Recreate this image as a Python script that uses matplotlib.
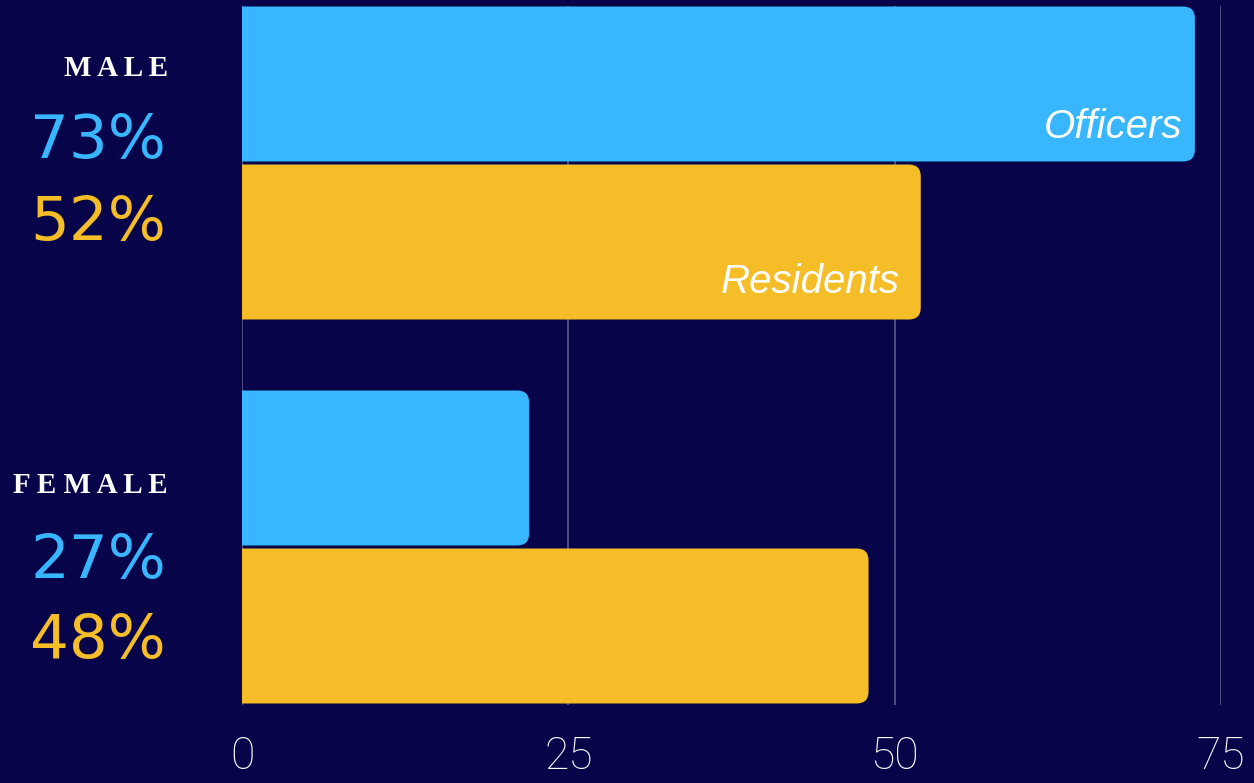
import matplotlib.pyplot as plt
from matplotlib.patches import FancyBboxPatch
from matplotlib.transforms import blended_transform_factory

# data
groups = ['MALE', 'FEMALE']
officers = [73, 22]          # bar lengths as drawn
residents = [52, 48]
officer_labels = ['73%', '27%']
resident_labels = ['52%', '48%']
ticks = [0, 25, 50, 75]

BG = '#07044a'
BLUE = '#38b6ff'
YELLOW = '#f5bd27'
GRID = '#5a5a86'

fig = plt.figure(figsize=(12.54, 7.83), dpi=100, facecolor=BG)
ax = fig.add_axes([242 / 1254, 78 / 783, 979 / 1254, 699 / 783])
ax.set_facecolor(BG)

ax.set_xlim(0, 75)
ax.set_ylim(1 + 158 / 384, -157 / 384)

bar_h = 155 / 384
off = 79 / 384
rx = 12 / 13.05            # corner radius in x units
aspect = (12 / 384) / rx

def rbar(y, w, color):
    # start left of 0 so only the right corners look rounded
    p = FancyBboxPatch((-3, y - bar_h / 2), w + 3, bar_h,
                       boxstyle=f'round,pad=0,rounding_size={rx}',
                       mutation_aspect=aspect, fc=color, ec='none', zorder=3)
    ax.add_patch(p)

for i in range(len(groups)):
    rbar(i - off, officers[i], BLUE)
    rbar(i + off, residents[i], YELLOW)

# grid
for t in ticks:
    ax.axvline(t, color=GRID, lw=1.2, zorder=1)

for s in ax.spines.values():
    s.set_visible(False)
ax.set_yticks([])
ax.set_xticks(ticks)
ax.tick_params(axis='x', length=0, pad=22, colors='white')
for lab in ax.get_xticklabels():
    lab.set_fontfamily('Roboto')
    lab.set_fontweight('light')
    lab.set_fontsize(32)

# in-bar labels
ax.text(officers[0] - 1.0, 0 - off + 0.141, 'Officers', color='white',
        fontsize=29, style='italic', family='Liberation Sans',
        ha='right', va='baseline', zorder=4)
ax.text(residents[0] - 1.6, 0 + off + 0.133, 'Residents', color='white',
        fontsize=29, style='italic', family='Liberation Sans',
        ha='right', va='baseline', zorder=4)

# left labels
tr = blended_transform_factory(ax.transAxes, ax.transData)
xl = (166 - 242) / 979
head_y = [-0.227, -0.141]
off_y = [-0.013, 0.081]
res_y = [0.2005, 0.289]
for i, g in enumerate(groups):
    ax.text(xl + 0.002, i + head_y[i], ' '.join(g), color='white', fontsize=21,
            family='Liberation Serif', fontweight='bold', ha='right', va='baseline',
            transform=tr)
    ax.text(xl, i + off_y[i], officer_labels[i], color=BLUE, fontsize=44,
            family='DejaVu Sans', ha='right', va='baseline', transform=tr)
    ax.text(xl, i + res_y[i], resident_labels[i], color=YELLOW, fontsize=44,
            family='DejaVu Sans', ha='right', va='baseline', transform=tr)

fig.savefig('out.png', dpi=100, facecolor=BG)
